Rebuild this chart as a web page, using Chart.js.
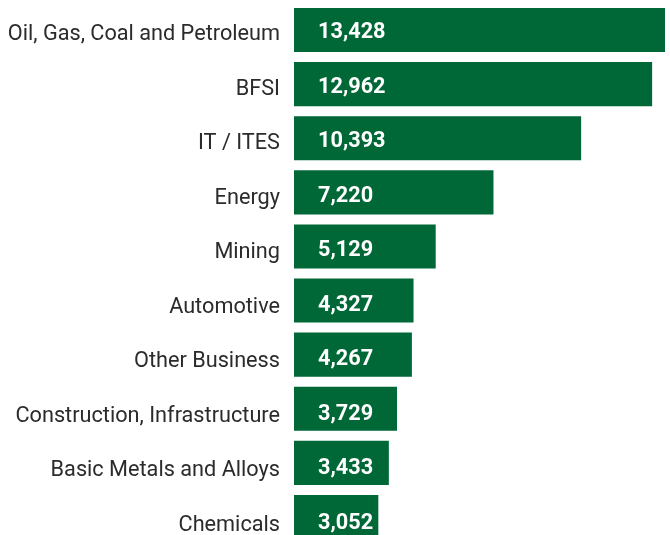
<!DOCTYPE html>
<html>
<head>
<meta charset="utf-8">
<script src="https://cdn.jsdelivr.net/npm/chart.js@4"></script>
<style>
  html, body { margin: 0; padding: 0; background: #fff; overflow: hidden; }
  canvas { display: block; }
</style>
</head>
<body>
<canvas id="c" width="670" height="547"></canvas>
<script>
const categories = [
  'Oil, Gas, Coal and Petroleum', 'BFSI', 'IT / ITES', 'Energy', 'Mining',
  'Automotive', 'Other Business', 'Construction, Infrastructure',
  'Basic Metals and Alloys', 'Chemicals'
];
const values = [13428, 12962, 10393, 7220, 5129, 4327, 4267, 3729, 3433, 3052];

const green = '#006837';

// category names right-aligned left of the bars, value text inside each bar
const barLabels = {
  id: 'barLabels',
  afterDatasetsDraw(chart) {
    const ctx = chart.ctx;
    const meta = chart.getDatasetMeta(0);
    const yScale = chart.scales.y;
    ctx.save();
    ctx.textBaseline = 'middle';
    meta.data.forEach((bar, i) => {
      const y = yScale.getPixelForValue(i) + 1 + i * 0.4;
      ctx.fillStyle = '#2b2b2b';
      ctx.font = '21.7px Roboto';
      ctx.textAlign = 'right';
      ctx.fillText(categories[i], bar.base - 14, y + 4);
      ctx.fillStyle = '#fff';
      ctx.font = 'bold 21.7px Roboto';
      ctx.textAlign = 'left';
      ctx.fillText(values[i].toLocaleString('en-US'), bar.base + 24, y + 2);
    });
    ctx.restore();
  }
};

new Chart(document.getElementById('c'), {
  type: 'bar',
  data: {
    labels: categories,
    datasets: [{
      data: values,
      backgroundColor: green,
      borderWidth: 0,
      categoryPercentage: 1,
      barPercentage: 44 / 54,
    }]
  },
  options: {
    indexAxis: 'y',
    responsive: false,
    animation: false,
    layout: { padding: { top: 3, bottom: 3, right: 5, left: 0 } },
    plugins: { legend: { display: false }, tooltip: { enabled: false } },
    scales: {
      x: { display: false, min: 0, max: 13428 },
      y: {
        afterFit: (s) => {
          s.width = 294;
          s.paddingTop = 0;
          s.paddingBottom = 0;
        },
        grid: { display: false, drawTicks: false },
        border: { display: false },
        ticks: { display: false }
      }
    }
  },
  plugins: [barLabels]
});
</script>
</body>
</html>
